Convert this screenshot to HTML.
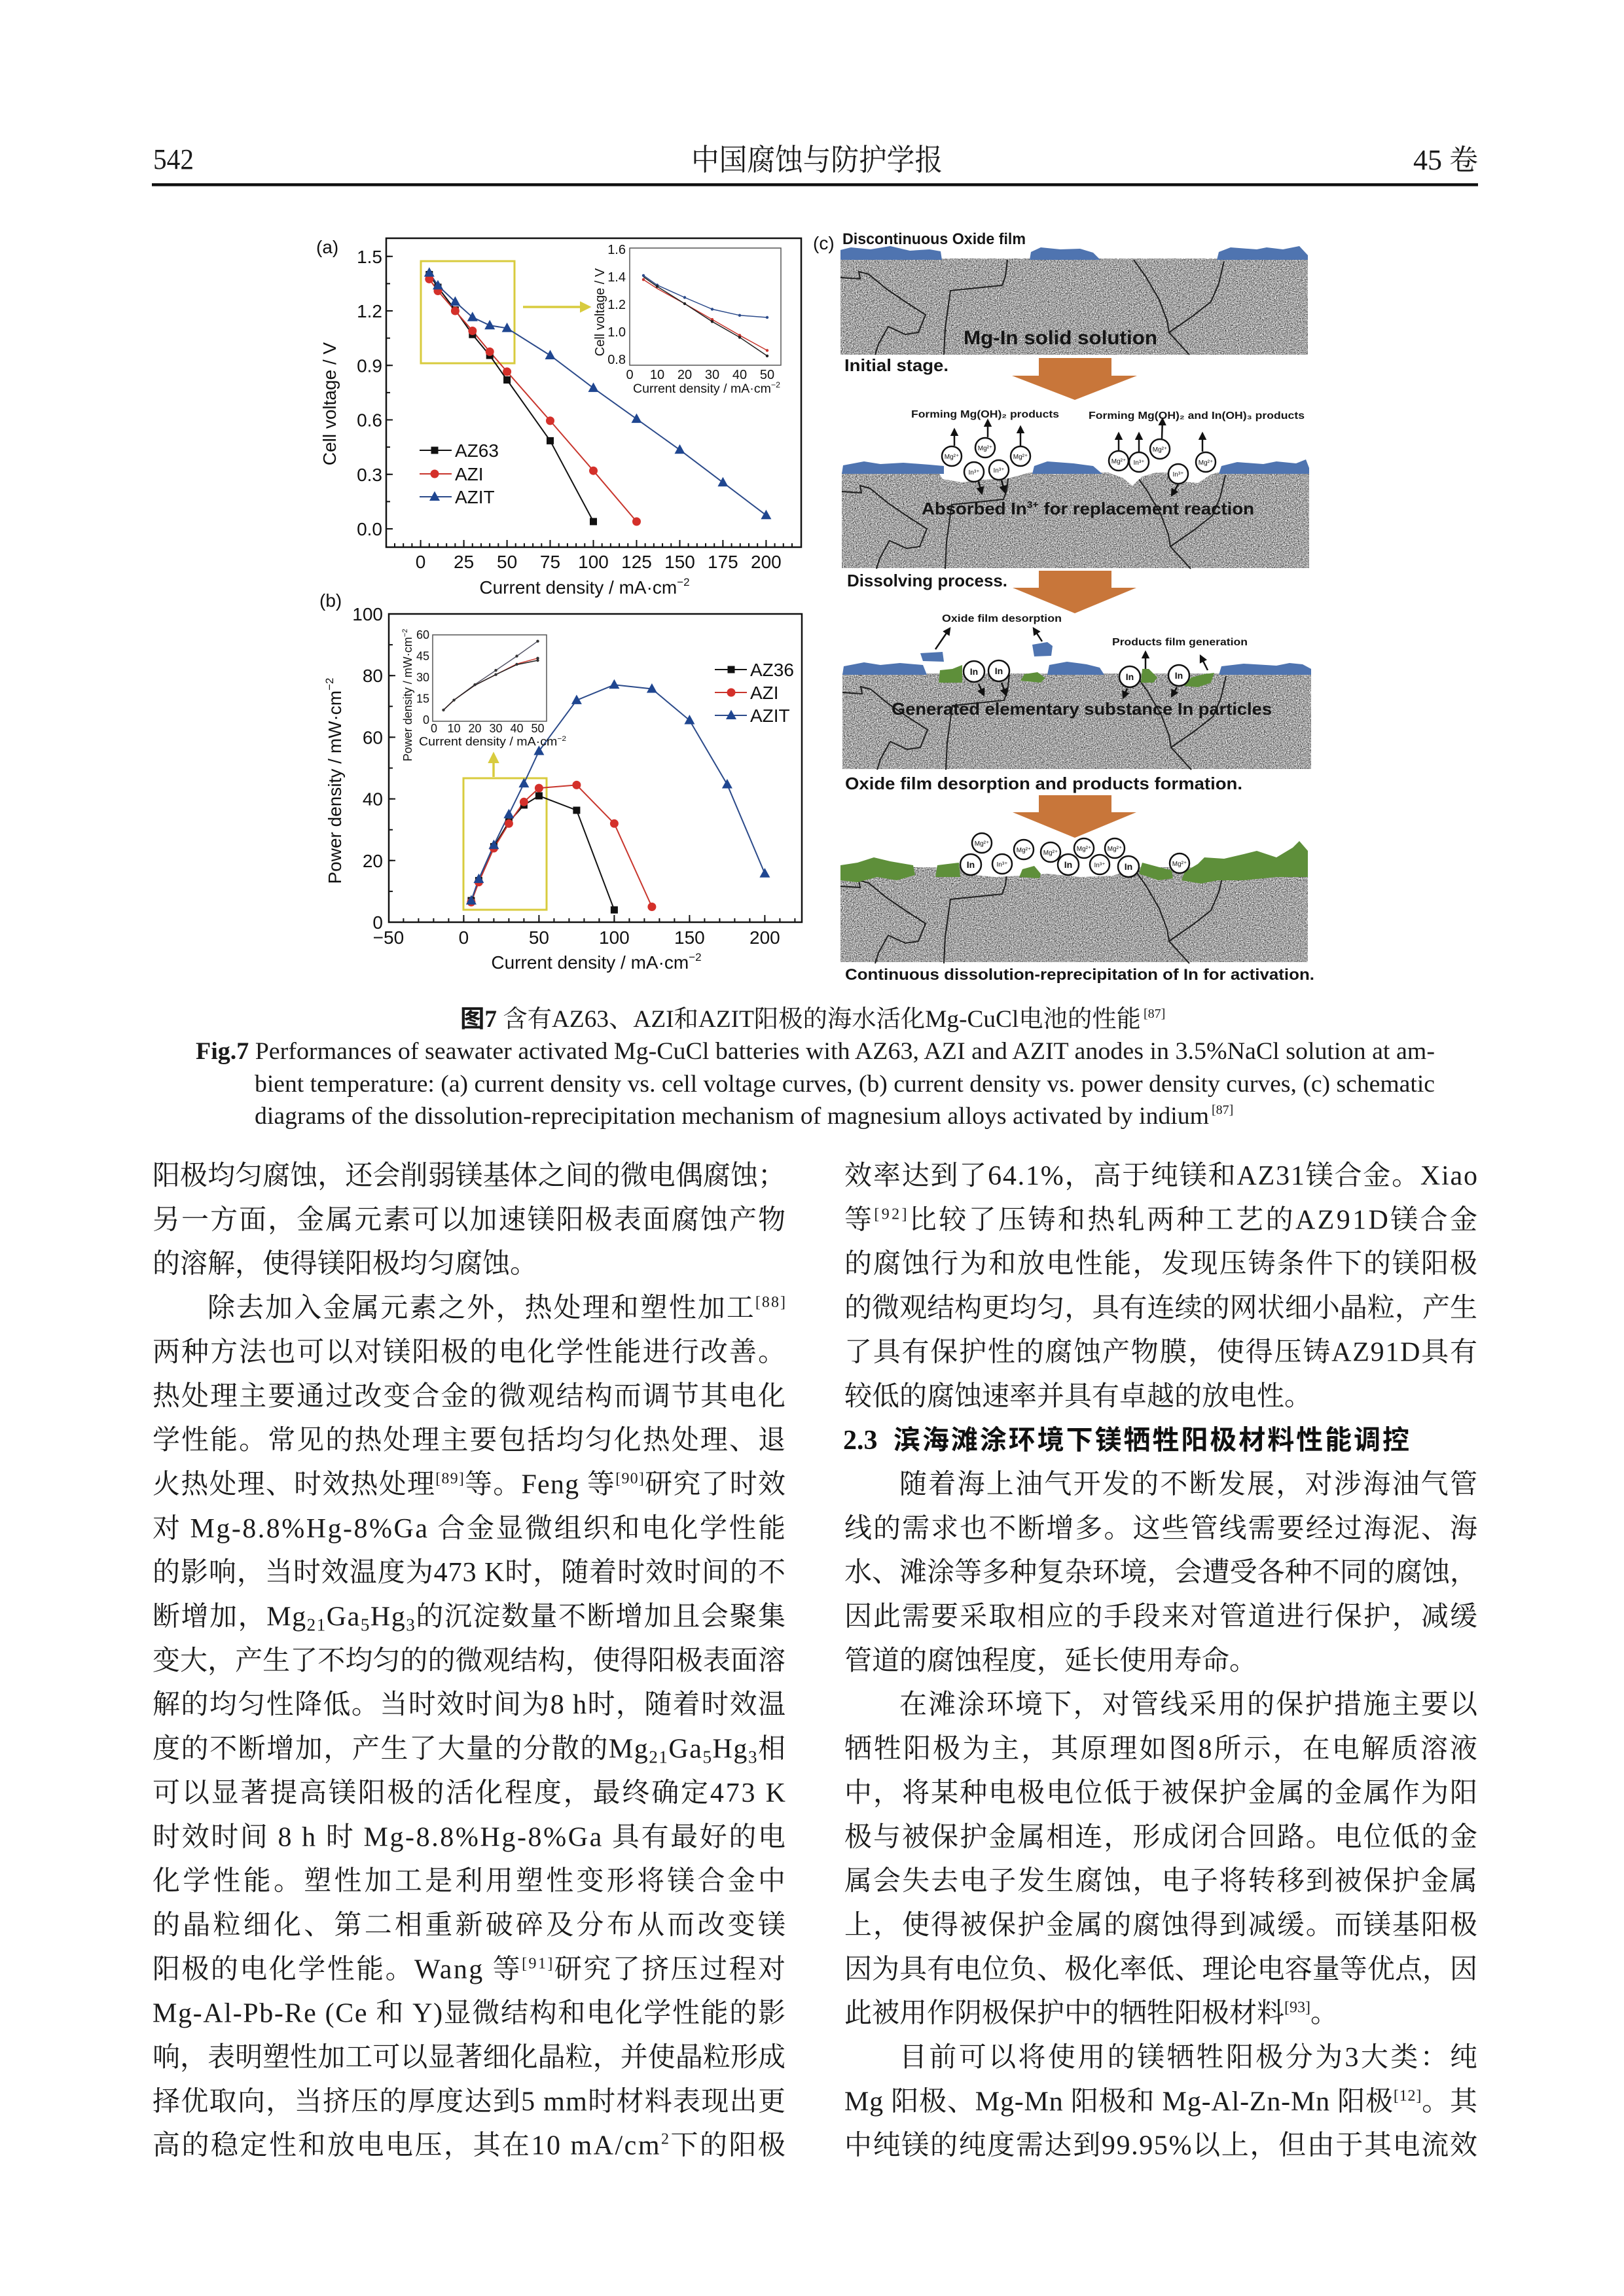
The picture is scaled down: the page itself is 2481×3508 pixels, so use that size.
<!DOCTYPE html>
<html><head><meta charset="utf-8">
<style>
html,body{margin:0;padding:0;background:#fff;}
svg{display:block;}
.b{font-family:"Liberation Serif","Noto Serif CJK SC",serif;font-size:42px;fill:#1a1a1a;}
.sup{font-size:24px;}
.sub{font-size:27px;}
.a{font-family:"Liberation Sans",sans-serif;fill:#111;}
.cb{font-family:"Liberation Sans",sans-serif;font-weight:bold;fill:#151515;}
.ion{font-family:"Liberation Sans","DejaVu Sans",sans-serif;font-size:10px;fill:#111;}
.cap{font-family:"Liberation Serif","Noto Serif CJK SC",serif;fill:#1a1a1a;}
</style></head><body>
<svg width="2481" height="3508" viewBox="0 0 2481 3508" xmlns="http://www.w3.org/2000/svg">
<defs>
<filter id="grain" x="0" y="0" width="1" height="1" color-interpolation-filters="sRGB">
<feTurbulence type="fractalNoise" baseFrequency="0.6" numOctaves="2" seed="7" result="n"/>
<feColorMatrix in="n" type="matrix" values="0.33 0.33 0.33 0 0 0.33 0.33 0.33 0 0 0.33 0.33 0.33 0 0 0 0 0 0 1" result="g"/>
<feComponentTransfer in="g" result="c"><feFuncR type="linear" slope="2.3" intercept="-0.5"/><feFuncG type="linear" slope="2.3" intercept="-0.5"/><feFuncB type="linear" slope="2.3" intercept="-0.5"/></feComponentTransfer>
<feComposite in="c" in2="SourceAlpha" operator="in"/>
</filter>
<rect id="sq" x="-5.5" y="-5.5" width="11" height="11"/>
<circle id="ci" r="6.5"/>
<path id="tr" d="M0,-8.5 L8,6 L-8,6Z"/>
<circle id="dot" r="2.2"/>
<marker id="ah" viewBox="0 0 10 10" refX="8" refY="5" markerWidth="5" markerHeight="5" orient="auto"><path d="M0,0 L10,5 L0,10Z" fill="#111"/></marker>
<marker id="ay" viewBox="0 0 10 10" refX="8" refY="5" markerWidth="5" markerHeight="5" orient="auto"><path d="M0,0 L10,5 L0,10Z" fill="#d8cb3e"/></marker>
<g id="gb" fill="none" stroke="#1e1e1e" stroke-width="2">
<polyline points="0,29 30,31 28,20 43,24 71,47 99,66 130,86 119,113 99,116 73,104 58,131 53,147"/>
<polyline points="158,147 160,106 168,49 247,41 252,27 255,2"/>
<polyline points="448,2 466,27 487,63 499,95 502,113 533,147"/>
<polyline points="502,113 538,88 566,66 578,38 586,4"/>
</g>
<g id="mg"><circle r="15" fill="#fff" stroke="#111" stroke-width="2.5"/><text class="ion" y="4" text-anchor="middle">Mg²⁺</text></g>
<g id="in3"><circle r="15" fill="#fff" stroke="#111" stroke-width="2.5"/><text class="ion" y="4" text-anchor="middle">In³⁺</text></g>
<g id="in"><circle r="16" fill="#fff" stroke="#111" stroke-width="2.5"/><text class="ion" y="5" text-anchor="middle" style="font-size:14px;font-weight:bold">In</text></g>
</defs>
<rect width="2481" height="3508" fill="#fff"/>

<!-- Header -->
<text x="234" y="258" class="cap" font-size="44" textLength="62" lengthAdjust="spacingAndGlyphs">542</text>
<text x="1056" y="260" class="cap" font-size="46" textLength="384" lengthAdjust="spacingAndGlyphs">中国腐蚀与防护学报</text>
<text x="2258" y="259" class="cap" font-size="44" text-anchor="end">45 卷</text>
<rect x="232" y="280" width="2026" height="4.5" fill="#111"/>

<!-- ============ Panel (a) ============ -->
<text class="a" x="483" y="387" font-size="28">(a)</text>
<rect x="590" y="364" width="634" height="472" fill="none" stroke="#111" stroke-width="2.5"/>
<line x1="602" y1="833" x2="1212" y2="833" stroke="#111" stroke-width="6" stroke-dasharray="2 11.195"/>
<path d="M642.6 836v-11M708.6 836v-11M774.6 836v-11M840.5 836v-11M906.5 836v-11M972.5 836v-11M1038.5 836v-11M1104.4 836v-11M1170.4 836v-11" stroke="#111" stroke-width="2"/>
<line x1="593" y1="390.75" x2="593" y2="810" stroke="#111" stroke-width="6" stroke-dasharray="2 39.625"/>
<path d="M590 808h10M590 724.75h10M590 641.5h10M590 558.25h10M590 475h10M590 391.75h10" stroke="#111" stroke-width="2"/>
<g class="a" font-size="28" text-anchor="end">
<text x="584" y="401.75">1.5</text><text x="584" y="485">1.2</text><text x="584" y="568.25">0.9</text><text x="584" y="651.5">0.6</text><text x="584" y="734.75">0.3</text><text x="584" y="818">0.0</text>
</g>
<g class="a" font-size="28" text-anchor="middle">
<text x="642.6" y="868">0</text><text x="708.6" y="868">25</text><text x="774.6" y="868">50</text><text x="840.5" y="868">75</text><text x="906.5" y="868">100</text><text x="972.5" y="868">125</text><text x="1038.5" y="868">150</text><text x="1104.4" y="868">175</text><text x="1170.4" y="868">200</text>
</g>
<text class="a" x="893" y="907" font-size="28" text-anchor="middle">Current density / mA·cm<tspan font-size="17" dy="-12">−2</tspan></text>
<text class="a" font-size="28" text-anchor="middle" transform="translate(513,617) rotate(-90)">Cell voltage / V</text>

<rect x="643" y="399" width="143" height="156" fill="none" stroke="#d8cb3e" stroke-width="3"/>
<line x1="799" y1="469" x2="900" y2="469" stroke="#d8cb3e" stroke-width="3.5" marker-end="url(#ay)"/>

<polyline fill="none" stroke="#111" stroke-width="2" points="655.8,419.5 669,438.9 695.4,473.6 721.8,511.1 748.2,543 774.6,580.5 840.5,673.4 906.5,796.9"/>
<polyline fill="none" stroke="#c8352c" stroke-width="2" points="655.8,426.4 669,444.5 695.4,475 721.8,505.5 748.2,537.4 774.6,567.9 840.5,642.9 906.5,719.2 972.5,796.9"/>
<polyline fill="none" stroke="#2b4a8a" stroke-width="2" points="655.8,416.7 669,436.2 695.4,461.1 721.8,484.7 748.2,497.2 774.6,501.4 840.5,543 906.5,592.9 972.5,640.1 1038.5,687.3 1104.4,737.2 1170.4,787.2"/>
<g fill="#111"><use href="#sq" x="655.8" y="419.5"/><use href="#sq" x="669" y="438.9"/><use href="#sq" x="695.4" y="473.6"/><use href="#sq" x="721.8" y="511.1"/><use href="#sq" x="748.2" y="543"/><use href="#sq" x="774.6" y="580.5"/><use href="#sq" x="840.5" y="673.4"/><use href="#sq" x="906.5" y="796.9"/></g>
<g fill="#d4302a"><use href="#ci" x="655.8" y="426.4"/><use href="#ci" x="669" y="444.5"/><use href="#ci" x="695.4" y="475"/><use href="#ci" x="721.8" y="505.5"/><use href="#ci" x="748.2" y="537.4"/><use href="#ci" x="774.6" y="567.9"/><use href="#ci" x="840.5" y="642.9"/><use href="#ci" x="906.5" y="719.2"/><use href="#ci" x="972.5" y="796.9"/></g>
<g fill="#1f4690"><use href="#tr" x="655.8" y="416.7"/><use href="#tr" x="669" y="436.2"/><use href="#tr" x="695.4" y="461.1"/><use href="#tr" x="721.8" y="484.7"/><use href="#tr" x="748.2" y="497.2"/><use href="#tr" x="774.6" y="501.4"/><use href="#tr" x="840.5" y="543"/><use href="#tr" x="906.5" y="592.9"/><use href="#tr" x="972.5" y="640.1"/><use href="#tr" x="1038.5" y="687.3"/><use href="#tr" x="1104.4" y="737.2"/><use href="#tr" x="1170.4" y="787.2"/></g>

<line x1="641" y1="688" x2="690" y2="688" stroke="#111" stroke-width="2"/><use href="#sq" x="664" y="688" fill="#111"/>
<line x1="641" y1="724" x2="690" y2="724" stroke="#c8352c" stroke-width="2"/><use href="#ci" x="664" y="724" fill="#d4302a"/>
<line x1="641" y1="759" x2="690" y2="759" stroke="#2b4a8a" stroke-width="2"/><use href="#tr" x="664" y="759" fill="#1f4690"/>
<g class="a" font-size="28"><text x="695" y="698">AZ63</text><text x="695" y="734">AZI</text><text x="695" y="769">AZIT</text></g>

<rect x="962" y="379" width="231" height="179" fill="#fff" stroke="#555" stroke-width="1.5"/>
<g class="a" font-size="20" text-anchor="end"><text x="956" y="388">1.6</text><text x="956" y="430">1.4</text><text x="956" y="472">1.2</text><text x="956" y="514">1.0</text><text x="956" y="556">0.8</text></g>
<g class="a" font-size="20" text-anchor="middle"><text x="962" y="579">0</text><text x="1004" y="579">10</text><text x="1046" y="579">20</text><text x="1088" y="579">30</text><text x="1130" y="579">40</text><text x="1172" y="579">50</text></g>
<text class="a" x="967" y="600" font-size="19" textLength="225" lengthAdjust="spacingAndGlyphs">Current density / mA·cm<tspan font-size="12" dy="-8">−2</tspan></text>
<text class="a" font-size="20" text-anchor="middle" transform="translate(923,477) rotate(-90)">Cell voltage / V</text>
<polyline fill="none" stroke="#2b4a8a" stroke-width="1.5" points="983,420.9 1004,435.6 1046,454.5 1088,472.4 1130,481.8 1172,485"/>
<polyline fill="none" stroke="#c8352c" stroke-width="1.5" points="983,427.2 1004,440.9 1046,464 1088,488.1 1130,512.3 1172,535.4"/>
<polyline fill="none" stroke="#222" stroke-width="1.5" points="983,423 1004,437.7 1046,464 1088,491.3 1130,515.4 1172,543.8"/>
<g fill="#2b4a8a"><use href="#dot" x="983" y="420.9"/><use href="#dot" x="1004" y="435.6"/><use href="#dot" x="1046" y="454.5"/><use href="#dot" x="1088" y="472.4"/><use href="#dot" x="1130" y="481.8"/><use href="#dot" x="1172" y="485"/></g>
<g fill="#c8352c"><use href="#dot" x="983" y="427.2"/><use href="#dot" x="1088" y="488.1"/><use href="#dot" x="1130" y="512.3"/><use href="#dot" x="1172" y="535.4"/></g>
<g fill="#222"><use href="#dot" x="1004" y="437.7"/><use href="#dot" x="1046" y="464"/><use href="#dot" x="1088" y="491.3"/><use href="#dot" x="1130" y="515.4"/><use href="#dot" x="1172" y="543.8"/></g>

<!-- ============ Panel (b) ============ -->
<text class="a" x="488" y="927" font-size="28">(b)</text>
<rect x="594" y="938" width="631" height="471" fill="none" stroke="#111" stroke-width="2.5"/>
<line x1="615.4" y1="1406" x2="1216" y2="1406" stroke="#111" stroke-width="6" stroke-dasharray="2 21"/>
<path d="M708.4 1409v-11M823.4 1409v-11M938.4 1409v-11M1053.4 1409v-11M1168.4 1409v-11" stroke="#111" stroke-width="2"/>
<line x1="597" y1="937" x2="597" y2="1410" stroke="#111" stroke-width="6" stroke-dasharray="2 45.1"/>
<path d="M594 1409h10M594 1314.8h10M594 1220.6h10M594 1126.4h10M594 1032.2h10M594 938h10" stroke="#111" stroke-width="2"/>
<g class="a" font-size="28" text-anchor="end">
<text x="585" y="948">100</text><text x="585" y="1042.2">80</text><text x="585" y="1136.4">60</text><text x="585" y="1230.6">40</text><text x="585" y="1324.8">20</text><text x="585" y="1419">0</text>
</g>
<g class="a" font-size="28" text-anchor="middle">
<text x="593.4" y="1442">−50</text><text x="708.4" y="1442">0</text><text x="823.4" y="1442">50</text><text x="938.4" y="1442">100</text><text x="1053.4" y="1442">150</text><text x="1168.4" y="1442">200</text>
</g>
<text class="a" x="911" y="1480" font-size="28" text-anchor="middle">Current density / mA·cm<tspan font-size="17" dy="-12">−2</tspan></text>
<text class="a" font-size="28" text-anchor="middle" transform="translate(521,1193) rotate(-90)">Power density / mW·cm<tspan font-size="17" dy="-12">−2</tspan></text>

<rect x="708" y="1189" width="127" height="201" fill="none" stroke="#d8cb3e" stroke-width="3"/>
<line x1="754" y1="1187" x2="754" y2="1152" stroke="#d8cb3e" stroke-width="3.5" marker-end="url(#ay)"/>

<polyline fill="none" stroke="#111" stroke-width="2" points="719.9,1376 731.4,1345.4 754.4,1293.6 777.4,1255.9 800.4,1230 823.4,1215.9 880.9,1238 938.4,1390.2"/>
<polyline fill="none" stroke="#c8352c" stroke-width="2" points="719.9,1378.4 731.4,1347.8 754.4,1296 777.4,1258.3 800.4,1225.3 823.4,1204.1 880.9,1199.4 938.4,1258.3 995.9,1385.5"/>
<polyline fill="none" stroke="#2b4a8a" stroke-width="2" points="719.9,1376 731.4,1343.1 754.4,1291.3 777.4,1244.2 800.4,1197.1 823.4,1147.6 880.9,1069.9 938.4,1046.3 995.9,1052.5 1053.4,1100.5 1110.9,1198.5 1168.4,1334.6"/>
<g fill="#111"><use href="#sq" x="719.9" y="1376"/><use href="#sq" x="731.4" y="1345.4"/><use href="#sq" x="754.4" y="1293.6"/><use href="#sq" x="777.4" y="1255.9"/><use href="#sq" x="800.4" y="1230"/><use href="#sq" x="823.4" y="1215.9"/><use href="#sq" x="880.9" y="1238"/><use href="#sq" x="938.4" y="1390.2"/></g>
<g fill="#d4302a"><use href="#ci" x="719.9" y="1378.4"/><use href="#ci" x="731.4" y="1347.8"/><use href="#ci" x="754.4" y="1296"/><use href="#ci" x="777.4" y="1258.3"/><use href="#ci" x="800.4" y="1225.3"/><use href="#ci" x="823.4" y="1204.1"/><use href="#ci" x="880.9" y="1199.4"/><use href="#ci" x="938.4" y="1258.3"/><use href="#ci" x="995.9" y="1385.5"/></g>
<g fill="#1f4690"><use href="#tr" x="719.9" y="1376"/><use href="#tr" x="731.4" y="1343.1"/><use href="#tr" x="754.4" y="1291.3"/><use href="#tr" x="777.4" y="1244.2"/><use href="#tr" x="800.4" y="1197.1"/><use href="#tr" x="823.4" y="1147.6"/><use href="#tr" x="880.9" y="1069.9"/><use href="#tr" x="938.4" y="1046.3"/><use href="#tr" x="995.9" y="1052.5"/><use href="#tr" x="1053.4" y="1100.5"/><use href="#tr" x="1110.9" y="1198.5"/><use href="#tr" x="1168.4" y="1334.6"/></g>

<line x1="1092" y1="1023" x2="1141" y2="1023" stroke="#111" stroke-width="2"/><use href="#sq" x="1117" y="1023" fill="#111"/>
<line x1="1092" y1="1058" x2="1141" y2="1058" stroke="#c8352c" stroke-width="2"/><use href="#ci" x="1117" y="1058" fill="#d4302a"/>
<line x1="1092" y1="1093" x2="1141" y2="1093" stroke="#2b4a8a" stroke-width="2"/><use href="#tr" x="1117" y="1093" fill="#1f4690"/>
<g class="a" font-size="28"><text x="1146" y="1033">AZ36</text><text x="1146" y="1068">AZI</text><text x="1146" y="1103">AZIT</text></g>

<rect x="661" y="970" width="174" height="132" fill="#fff" stroke="#555" stroke-width="1.5"/>
<g class="a" font-size="18" text-anchor="end"><text x="656" y="976">60</text><text x="656" y="1008.5">45</text><text x="656" y="1041">30</text><text x="656" y="1073.5">15</text><text x="656" y="1106">0</text></g>
<g class="a" font-size="18" text-anchor="middle"><text x="663" y="1119">0</text><text x="693.5" y="1119">10</text><text x="725.5" y="1119">20</text><text x="757.5" y="1119">30</text><text x="789.5" y="1119">40</text><text x="821.5" y="1119">50</text></g>
<text class="a" x="640" y="1139" font-size="18" textLength="225" lengthAdjust="spacingAndGlyphs">Current density / mA·cm<tspan font-size="11" dy="-7">−2</tspan></text>
<text class="a" font-size="18" text-anchor="middle" transform="translate(629,1062) rotate(-90)">Power density / mW·cm<tspan font-size="11" dy="-7">−2</tspan></text>
<polyline fill="none" stroke="#556" stroke-width="1.5" points="677.5,1084.8 693.5,1069.7 725.5,1045.8 757.5,1024.2 789.5,1002.5 821.5,979.7"/>
<polyline fill="none" stroke="#c8352c" stroke-width="1.5" points="677.5,1084.8 693.5,1069.7 725.5,1046.9 757.5,1030.7 789.5,1014.4 821.5,1005.7"/>
<polyline fill="none" stroke="#222" stroke-width="1.5" points="677.5,1084.8 693.5,1069.7 725.5,1046.9 757.5,1030.7 789.5,1015.5 821.5,1009"/>
<g fill="#333"><use href="#dot" x="677.5" y="1084.8"/><use href="#dot" x="693.5" y="1069.7"/><use href="#dot" x="725.5" y="1046.2"/><use href="#dot" x="757.5" y="1024.2"/><use href="#dot" x="789.5" y="1002.5"/><use href="#dot" x="821.5" y="979.7"/><use href="#dot" x="757.5" y="1030.7"/><use href="#dot" x="789.5" y="1015"/><use href="#dot" x="821.5" y="1009"/><use href="#dot" x="821.5" y="1005.7"/></g>

<!-- ============ Panel (c) ============ -->
<text class="a" x="1242" y="381" font-size="28">(c)</text>
<text class="cb" x="1287" y="373" font-size="24" textLength="280" lengthAdjust="spacingAndGlyphs">Discontinuous Oxide film</text>

<rect x="1284" y="395" width="714" height="147" fill="#a2a2a2"/>
<rect x="1284" y="395" width="714" height="147" fill="#a2a2a2" filter="url(#grain)"/>
<use href="#gb" transform="translate(1284,395)"/>
<g fill="#4f74b0">
<polygon points="1284,397 1284,382 1300,378 1330,381 1360,376 1390,383 1420,381 1437,384 1439,397"/>
<polygon points="1573,397 1575,385 1590,378 1620,381 1650,380 1670,386 1681,397"/>
<polygon points="1859,397 1862,385 1880,378 1920,381 1935,378 1960,381 1985,376 1998,390 1998,397"/>
</g>
<text class="cb" x="1472" y="526" font-size="30" textLength="296" lengthAdjust="spacingAndGlyphs">Mg-In solid solution</text>
<text class="cb" x="1290" y="567" font-size="26" textLength="159" lengthAdjust="spacingAndGlyphs">Initial stage.</text>
<polygon points="1587,547 1698,547 1698,574 1737,574 1642,611 1546,574 1587,574" fill="#c8763a"/>

<text class="cb" x="1392" y="638" font-size="16" textLength="226" lengthAdjust="spacingAndGlyphs">Forming Mg(OH)₂ products</text>
<text class="cb" x="1663" y="640" font-size="16" textLength="330" lengthAdjust="spacingAndGlyphs">Forming Mg(OH)₂ and In(OH)₃ products</text>

<rect x="1286" y="722" width="714" height="146" fill="#a2a2a2"/>
<rect x="1286" y="722" width="714" height="146" fill="#a2a2a2" filter="url(#grain)"/>
<use href="#gb" transform="translate(1286,722)"/>
<g fill="#fff">
<polygon points="1433,721 1440,732 1470,737 1500,733 1540,731 1577,721"/>
<polygon points="1690,721 1715,730 1730,742 1745,728 1770,721"/>
<polygon points="1790,721 1800,735 1830,738 1850,725 1862,721"/>
</g>
<g fill="#4f74b0">
<polygon points="1286,724 1288,711 1320,705 1345,709 1380,707 1420,710 1442,712 1442,724"/>
<polygon points="1577,724 1580,712 1600,705 1640,708 1670,712 1684,724"/>
<polygon points="1862,724 1866,712 1890,706 1930,709 1950,705 1980,708 1995,702 2000,715 2000,724"/>
</g>
<g stroke="#111" stroke-width="2.5" marker-end="url(#ah)">
<line x1="1458" y1="681" x2="1458" y2="656"/><line x1="1509" y1="668" x2="1509" y2="642"/><line x1="1559" y1="681" x2="1559" y2="652"/>
<line x1="1709" y1="688" x2="1709" y2="662"/><line x1="1740" y1="690" x2="1740" y2="662"/><line x1="1775" y1="670" x2="1776" y2="640"/><line x1="1837" y1="690" x2="1837" y2="662"/>
<line x1="1495" y1="736" x2="1500" y2="754"/><line x1="1530" y1="734" x2="1535" y2="752"/><line x1="1800" y1="740" x2="1790" y2="757"/>
</g>
<use href="#mg" x="1454" y="697"/><use href="#mg" x="1505" y="684"/><use href="#mg" x="1559" y="697"/><use href="#in3" x="1488" y="721"/><use href="#in3" x="1526" y="718"/>
<use href="#mg" x="1709" y="704"/><use href="#in3" x="1740" y="706"/><use href="#mg" x="1772" y="686"/><use href="#in3" x="1800" y="724"/><use href="#mg" x="1842" y="706"/>
<text class="cb" x="1408" y="786" font-size="26" textLength="508" lengthAdjust="spacingAndGlyphs">Absorbed In<tspan font-size="15" dy="-10">3+</tspan><tspan dy="10"> for replacement reaction</tspan></text>
<text class="cb" x="1294" y="896" font-size="26" textLength="245" lengthAdjust="spacingAndGlyphs">Dissolving process.</text>
<polygon points="1587,872 1698,872 1698,898 1736,898 1642,937 1547,898 1587,898" fill="#c8763a"/>

<text class="cb" x="1439" y="950" font-size="16" textLength="183" lengthAdjust="spacingAndGlyphs">Oxide film desorption</text>
<text class="cb" x="1699" y="986" font-size="16" textLength="207" lengthAdjust="spacingAndGlyphs">Products film generation</text>
<rect x="1287" y="1029" width="716" height="146" fill="#a2a2a2"/>
<rect x="1287" y="1029" width="716" height="146" fill="#a2a2a2" filter="url(#grain)"/>
<use href="#gb" transform="translate(1287,1029)"/>
<g fill="#4f74b0">
<polygon points="1287,1031 1289,1018 1320,1012 1345,1016 1375,1013 1410,1016 1416,1031"/>
<polygon points="1600,1031 1603,1016 1630,1011 1660,1015 1680,1020 1687,1031"/>
<polygon points="1862,1031 1866,1018 1900,1014 1950,1017 1970,1013 1990,1015 2003,1022 2003,1031"/>
<polygon points="1406,998 1440,996 1442,1011 1410,1010"/>
<polygon points="1577,985 1600,981 1608,987 1606,1002 1580,1003"/>
</g>
<g fill="#5e8f3a">
<polygon points="1434,1043 1436,1024 1455,1022 1470,1016 1470,1043"/>
<polygon points="1559,1040 1565,1030 1585,1027 1597,1036 1590,1043"/>
<polygon points="1743,1043 1745,1022 1755,1022 1768,1035 1762,1043"/>
<polygon points="1809,1048 1820,1035 1840,1030 1855,1028 1850,1043 1830,1050"/>
</g>
<g stroke="#111" stroke-width="2.5" marker-end="url(#ah)">
<line x1="1429" y1="992" x2="1451" y2="960"/><line x1="1592" y1="980" x2="1579" y2="960"/>
<line x1="1750" y1="1022" x2="1750" y2="996"/><line x1="1845" y1="1024" x2="1834" y2="1002"/>
<line x1="1495" y1="1045" x2="1503" y2="1062"/><line x1="1530" y1="1043" x2="1537" y2="1062"/><line x1="1722" y1="1052" x2="1716" y2="1066"/><line x1="1798" y1="1050" x2="1790" y2="1064"/>
</g>
<use href="#in" x="1488" y="1026"/><use href="#in" x="1526" y="1025"/><use href="#in" x="1726" y="1034"/><use href="#in" x="1801" y="1032"/>
<text class="cb" x="1362" y="1092" font-size="26" textLength="581" lengthAdjust="spacingAndGlyphs">Generated elementary substance In particles</text>
<text class="cb" x="1291" y="1206" font-size="26" textLength="607" lengthAdjust="spacingAndGlyphs">Oxide film desorption and products formation.</text>
<polygon points="1587,1215 1698,1215 1698,1241 1736,1241 1642,1280 1547,1241 1587,1241" fill="#c8763a"/>

<rect x="1284" y="1325" width="714" height="145" fill="#a2a2a2"/>
<rect x="1284" y="1325" width="714" height="145" fill="#a2a2a2" filter="url(#grain)"/>
<use href="#gb" transform="translate(1284,1325)"/>
<polygon points="1470,1324 1480,1336 1520,1340 1560,1338 1600,1335 1650,1340 1700,1338 1740,1324" fill="#fff"/>
<g fill="#5e8f3a">
<polygon points="1284,1345 1284,1322 1310,1318 1335,1310 1360,1316 1395,1322 1398,1337 1370,1345 1340,1340 1310,1348"/>
<polygon points="1429,1340 1432,1322 1448,1320 1465,1318 1467,1340"/>
<polygon points="1557,1340 1562,1328 1580,1323 1590,1335 1588,1342"/>
<polygon points="1740,1335 1745,1318 1760,1322 1790,1330 1792,1342 1770,1345"/>
<polygon points="1805,1345 1810,1332 1830,1320 1840,1310 1870,1312 1900,1305 1920,1300 1950,1310 1975,1295 1985,1285 1998,1300 1998,1340 1950,1340 1900,1345 1860,1345 1835,1350"/>
</g>
<use href="#mg" x="1500" y="1288"/><use href="#in" x="1483" y="1321"/><use href="#in3" x="1531" y="1320"/><use href="#mg" x="1564" y="1298"/><use href="#mg" x="1605" y="1302"/><use href="#mg" x="1656" y="1296"/><use href="#in" x="1632" y="1321"/><use href="#in3" x="1680" y="1321"/><use href="#mg" x="1703" y="1296"/><use href="#in" x="1724" y="1324"/><use href="#mg" x="1802" y="1319"/>
<text class="cb" x="1291" y="1497" font-size="24" textLength="717" lengthAdjust="spacingAndGlyphs">Continuous dissolution-reprecipitation of In for activation.</text>

<!-- ============ Captions ============ -->
<text class="cap" x="703" y="1569" font-size="37" textLength="1040" lengthAdjust="spacingAndGlyphs"><tspan font-family="Noto Sans CJK SC" font-weight="bold">图</tspan><tspan font-weight="bold">7</tspan> 含有AZ63、AZI和AZIT阳极的海水活化Mg-CuCl电池的性能</text>
<text class="cap" x="1747" y="1555" font-size="20">[87]</text>
<text class="cap" x="299" y="1618" font-size="37" textLength="1893" lengthAdjust="spacingAndGlyphs"><tspan font-weight="bold">Fig.7</tspan> Performances of seawater activated Mg-CuCl batteries with AZ63, AZI and AZIT anodes in 3.5%NaCl solution at am-</text>
<text class="cap" x="389" y="1668" font-size="37" textLength="1803" lengthAdjust="spacingAndGlyphs">bient temperature: (a) current density vs. cell voltage curves, (b) current density vs. power density curves, (c) schematic</text>
<text class="cap" x="389" y="1717" font-size="37" textLength="1458" lengthAdjust="spacingAndGlyphs">diagrams of the dissolution-reprecipitation mechanism of magnesium alloys activated by indium</text>
<text class="cap" x="1851" y="1702" font-size="20">[87]</text>

<!-- ============ Left column ============ -->
<g transform="translate(0,-3)">
<text class="b" x="233" y="1813" textLength="967" lengthAdjust="spacing">阳极均匀腐蚀，还会削弱镁基体之间的微电偶腐蚀；</text>
<text class="b" x="233" y="1880.4" textLength="967" lengthAdjust="spacing">另一方面，金属元素可以加速镁阳极表面腐蚀产物</text>
<text class="b" x="233" y="1947.7">的溶解，使得镁阳极均匀腐蚀。</text>
<text class="b" x="317" y="2015.1" textLength="883" lengthAdjust="spacing">除去加入金属元素之外，热处理和塑性加工<tspan class="sup" dy="-15">[88]</tspan></text>
<text class="b" x="233" y="2082.4" textLength="967" lengthAdjust="spacing">两种方法也可以对镁阳极的电化学性能进行改善。</text>
<text class="b" x="233" y="2149.8" textLength="967" lengthAdjust="spacing">热处理主要通过改变合金的微观结构而调节其电化</text>
<text class="b" x="233" y="2217.1" textLength="967" lengthAdjust="spacing">学性能。常见的热处理主要包括均匀化热处理、退</text>
<text class="b" x="233" y="2284.5" textLength="967" lengthAdjust="spacing">火热处理、时效热处理<tspan class="sup" dy="-15">[89]</tspan><tspan dy="15">等。Feng 等</tspan><tspan class="sup" dy="-15">[90]</tspan><tspan dy="15">研究了时效</tspan></text>
<text class="b" x="233" y="2351.8" textLength="967" lengthAdjust="spacing">对 Mg-8.8%Hg-8%Ga 合金显微组织和电化学性能</text>
<text class="b" x="233" y="2419.2" textLength="967" lengthAdjust="spacing">的影响，当时效温度为473 K时，随着时效时间的不</text>
<text class="b" x="233" y="2486.5" textLength="967" lengthAdjust="spacing">断增加，Mg<tspan class="sub" dy="8">21</tspan><tspan dy="-8">Ga</tspan><tspan class="sub" dy="8">5</tspan><tspan dy="-8">Hg</tspan><tspan class="sub" dy="8">3</tspan><tspan dy="-8">的沉淀数量不断增加且会聚集</tspan></text>
<text class="b" x="233" y="2553.9" textLength="967" lengthAdjust="spacing">变大，产生了不均匀的的微观结构，使得阳极表面溶</text>
<text class="b" x="233" y="2621.2" textLength="967" lengthAdjust="spacing">解的均匀性降低。当时效时间为8 h时，随着时效温</text>
<text class="b" x="233" y="2688.6" textLength="967" lengthAdjust="spacing">度的不断增加，产生了大量的分散的Mg<tspan class="sub" dy="8">21</tspan><tspan dy="-8">Ga</tspan><tspan class="sub" dy="8">5</tspan><tspan dy="-8">Hg</tspan><tspan class="sub" dy="8">3</tspan><tspan dy="-8">相</tspan></text>
<text class="b" x="233" y="2755.9" textLength="967" lengthAdjust="spacing">可以显著提高镁阳极的活化程度，最终确定473 K</text>
<text class="b" x="233" y="2823.3" textLength="967" lengthAdjust="spacing">时效时间 8 h 时 Mg-8.8%Hg-8%Ga 具有最好的电</text>
<text class="b" x="233" y="2890.6" textLength="967" lengthAdjust="spacing">化学性能。塑性加工是利用塑性变形将镁合金中</text>
<text class="b" x="233" y="2958" textLength="967" lengthAdjust="spacing">的晶粒细化、第二相重新破碎及分布从而改变镁</text>
<text class="b" x="233" y="3025.3" textLength="967" lengthAdjust="spacing">阳极的电化学性能。Wang 等<tspan class="sup" dy="-15">[91]</tspan><tspan dy="15">研究了挤压过程对</tspan></text>
<text class="b" x="233" y="3092.7" textLength="967" lengthAdjust="spacing">Mg-Al-Pb-Re (Ce 和 Y)显微结构和电化学性能的影</text>
<text class="b" x="233" y="3160" textLength="967" lengthAdjust="spacing">响，表明塑性加工可以显著细化晶粒，并使晶粒形成</text>
<text class="b" x="233" y="3227.4" textLength="967" lengthAdjust="spacing">择优取向，当挤压的厚度达到5 mm时材料表现出更</text>
<text class="b" x="233" y="3294.7" textLength="967" lengthAdjust="spacing">高的稳定性和放电电压，其在10 mA/cm<tspan class="sup" dy="-16">2</tspan><tspan dy="16">下的阳极</tspan></text>

<!-- ============ Right column ============ -->
<text class="b" x="1290" y="1813" textLength="967" lengthAdjust="spacing">效率达到了64.1%，高于纯镁和AZ31镁合金。Xiao</text>
<text class="b" x="1290" y="1880.4" textLength="967" lengthAdjust="spacing">等<tspan class="sup" dy="-15">[92]</tspan><tspan dy="15">比较了压铸和热轧两种工艺的AZ91D镁合金</tspan></text>
<text class="b" x="1290" y="1947.7" textLength="967" lengthAdjust="spacing">的腐蚀行为和放电性能，发现压铸条件下的镁阳极</text>
<text class="b" x="1290" y="2015.1" textLength="967" lengthAdjust="spacing">的微观结构更均匀，具有连续的网状细小晶粒，产生</text>
<text class="b" x="1290" y="2082.4" textLength="967" lengthAdjust="spacing">了具有保护性的腐蚀产物膜，使得压铸AZ91D具有</text>
<text class="b" x="1290" y="2149.8">较低的腐蚀速率并具有卓越的放电性。</text>
<text x="1288" y="2217.1" font-family="Liberation Serif,serif" font-weight="bold" font-size="42" fill="#111">2.3</text>
<text x="1365" y="2217.1" font-family="'Noto Sans CJK SC',sans-serif" font-weight="bold" font-size="41" fill="#111" textLength="788" lengthAdjust="spacing">滨海滩涂环境下镁牺牲阳极材料性能调控</text>
<text class="b" x="1374" y="2284.5" textLength="883" lengthAdjust="spacing">随着海上油气开发的不断发展，对涉海油气管</text>
<text class="b" x="1290" y="2351.8" textLength="967" lengthAdjust="spacing">线的需求也不断增多。这些管线需要经过海泥、海</text>
<text class="b" x="1290" y="2419.2" textLength="967" lengthAdjust="spacing">水、滩涂等多种复杂环境，会遭受各种不同的腐蚀，</text>
<text class="b" x="1290" y="2486.5" textLength="967" lengthAdjust="spacing">因此需要采取相应的手段来对管道进行保护，减缓</text>
<text class="b" x="1290" y="2553.9">管道的腐蚀程度，延长使用寿命。</text>
<text class="b" x="1374" y="2621.2" textLength="883" lengthAdjust="spacing">在滩涂环境下，对管线采用的保护措施主要以</text>
<text class="b" x="1290" y="2688.6" textLength="967" lengthAdjust="spacing">牺牲阳极为主，其原理如图8所示，在电解质溶液</text>
<text class="b" x="1290" y="2755.9" textLength="967" lengthAdjust="spacing">中，将某种电极电位低于被保护金属的金属作为阳</text>
<text class="b" x="1290" y="2823.3" textLength="967" lengthAdjust="spacing">极与被保护金属相连，形成闭合回路。电位低的金</text>
<text class="b" x="1290" y="2890.6" textLength="967" lengthAdjust="spacing">属会失去电子发生腐蚀，电子将转移到被保护金属</text>
<text class="b" x="1290" y="2958" textLength="967" lengthAdjust="spacing">上，使得被保护金属的腐蚀得到减缓。而镁基阳极</text>
<text class="b" x="1290" y="3025.3" textLength="967" lengthAdjust="spacing">因为具有电位负、极化率低、理论电容量等优点，因</text>
<text class="b" x="1290" y="3092.7">此被用作阴极保护中的牺牲阳极材料<tspan class="sup" dy="-15">[93]</tspan><tspan dy="15">。</tspan></text>
<text class="b" x="1374" y="3160" textLength="883" lengthAdjust="spacing">目前可以将使用的镁牺牲阳极分为3大类：纯</text>
<text class="b" x="1290" y="3227.4" textLength="967" lengthAdjust="spacing">Mg 阳极、Mg-Mn 阳极和 Mg-Al-Zn-Mn 阳极<tspan class="sup" dy="-15">[12]</tspan><tspan dy="15">。其</tspan></text>
<text class="b" x="1290" y="3294.7" textLength="967" lengthAdjust="spacing">中纯镁的纯度需达到99.95%以上，但由于其电流效</text>
</g>
</svg>
</body></html>
